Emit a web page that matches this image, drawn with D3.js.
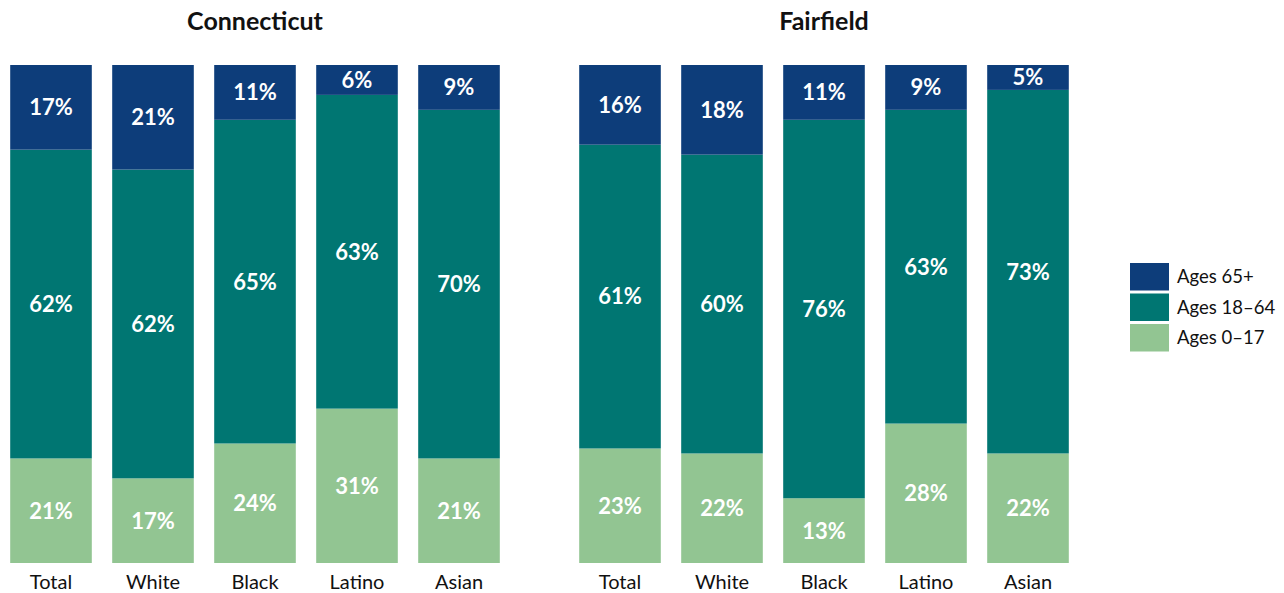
<!DOCTYPE html>
<html><head><meta charset="utf-8">
<script src="https://cdn.jsdelivr.net/npm/d3@7"></script>
<style>body{margin:0;background:#fff}svg{display:block}text{font-family:Lato,"Noto Sans",sans-serif}</style>
</head><body><svg id="c" width="1284" height="593"></svg>
<script>
const categories = ["Total","White","Black","Latino","Asian"];
const panels = ["Connecticut","Fairfield"];
const seriesNames = ["Ages 0–17","Ages 18–64","Ages 65+"];
const colors = ["#92c592","#007672","#0d3d7a"];
// values per panel: [age0_17, age18_64, age65]
const ctAge0_17 = [21,17,24,31,21];
const ctAge18_64 = [62,62,65,63,70];
const ctAge65 = [17,21,11,6,9];
const ffAge0_17 = [23,22,13,28,22];
const ffAge18_64 = [61,60,76,63,73];
const ffAge65 = [16,18,11,9,5];
const panelData = [[ctAge0_17,ctAge18_64,ctAge65],[ffAge0_17,ffAge18_64,ffAge65]];

const svg = d3.select("#c");
const plotTop = 65, plotBottom = 563;
const y = d3.scaleLinear().domain([0,100]).range([plotBottom, plotTop]);
const panelX = [[0,510],[569,1079]];

panels.forEach((name, pi) => {
  const x = d3.scaleBand().domain(categories).range(panelX[pi]).paddingInner(0.2).paddingOuter(0.1);
  const g = svg.append("g");
  const rows = categories.map((c,i) => {
    const o = {cat:c};
    seriesNames.forEach((s,si)=> o[s] = panelData[pi][si][i]);
    return o;
  });
  const stack = d3.stack().keys(seriesNames)(rows);
  stack.forEach((layer, si) => {
    layer.forEach(d => {
      g.append("rect").attr("x", x(d.data.cat)).attr("width", x.bandwidth())
        .attr("y", y(d[1])).attr("height", y(d[0]) - y(d[1])).attr("fill", colors[si]);
      g.append("text").attr("x", x(d.data.cat) + x.bandwidth()/2)
        .attr("y", (y(d[0]) + y(d[1]))/2).attr("dy","0.36em")
        .attr("text-anchor","middle").attr("fill","#fff").attr("font-weight","bold")
        .attr("font-size", 22).text(d.data[layer.key] + "%");
    });
  });
  const ax = g.append("g").attr("transform", `translate(0,${plotBottom})`).call(d3.axisBottom(x).tickSize(0).tickPadding(12));
  ax.select(".domain").remove();
  ax.selectAll("text").attr("font-size", 20).attr("fill","#111").style("font-family","Lato, 'Noto Sans', sans-serif");
  g.append("text").attr("x", (x.range()[0]+x.range()[1])/2).attr("y", 30).attr("text-anchor","middle")
    .attr("font-weight","bold").attr("font-size", 25).attr("fill","#111").text(name);
});

const legendOrder = [2,1,0];
const lg = svg.append("g").attr("transform","translate(1130,263)");
legendOrder.forEach((si, k) => {
  lg.append("rect").attr("x",0).attr("y", k*30.5).attr("width",39).attr("height",27.5).attr("fill", colors[si]);
  lg.append("text").attr("x",47).attr("y", k*30.5 + 14).attr("dy","0.35em").attr("font-size",18.5).attr("fill","#111").text(seriesNames[si]);
});
</script></body></html>
